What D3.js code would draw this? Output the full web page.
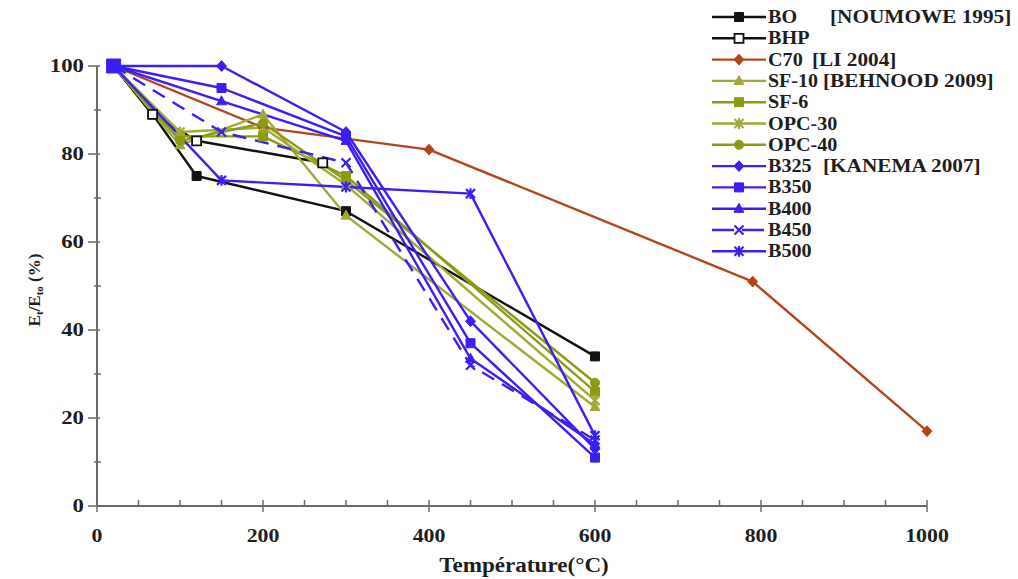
<!DOCTYPE html>
<html><head><meta charset="utf-8">
<script src="https://cdn.jsdelivr.net/npm/d3@7"></script>
<style>body{margin:0;background:#fff}svg{display:block}text{font-family:"Liberation Serif","Times New Roman",serif;font-weight:bold}</style>
</head><body><svg id="c" width="1018" height="579"></svg>
<script>
// ---- data ----
const xTicks = [0, 200, 400, 600, 800, 1000];
const yTicks = [0, 20, 40, 60, 80, 100];
const seriesNames = ["BO","BHP","C70","SF-10","SF-6","OPC-30","OPC-40","B325","B350","B400","B450","B500"];
const legendRefs = ["[NOUMOWE 1995]","","[LI 2004]","[BEHNOOD 2009]","","","","[KANEMA 2007]","","","",""];
const tempBO = [20, 67, 120, 300, 600];
const valBO = [100, 89, 75, 67, 34];
const tempBHP = [20, 67, 120, 272];
const valBHP = [100, 89, 83, 78];
const tempLi = [20, 200, 400, 790, 1000];
const valC70 = [100, 86, 81, 51, 17];
const tempBehnood = [20, 100, 200, 300, 600];
const valSF10 = [100, 82, 89, 66, 22.5];
const valSF6 = [100, 84, 84, 75, 26];
const valOPC30 = [100, 85, 86, 73, 24];
const valOPC40 = [100, 83, 87, 74, 28];
const tempKanema = [20, 150, 300, 450, 600];
const valB325 = [100, 100, 85, 42, 13];
const valB350 = [100, 95, 84, 37, 11];
const valB400 = [100, 92, 83, 33.5, 14];
const valB450 = [100, 85, 78, 32, 15];
const valB500 = [100, 74, 72.5, 71, 16];

const blue = "#3a20f2", olive = "#8e9a14", olive2 = "#a2aa36", red = "#b5441e", black = "#111";
const series = [
  {name:"BO", x:tempBO, y:valBO, color:black, marker:"square", fill:true},
  {name:"BHP", x:tempBHP, y:valBHP, color:black, marker:"square", fill:false},
  {name:"C70", x:tempLi, y:valC70, color:red, marker:"diamond", fill:true},
  {name:"SF-10", x:tempBehnood, y:valSF10, color:olive2, marker:"triangle", fill:true},
  {name:"SF-6", x:tempBehnood, y:valSF6, color:olive, marker:"square", fill:true},
  {name:"OPC-30", x:tempBehnood, y:valOPC30, color:olive2, marker:"star", fill:true},
  {name:"OPC-40", x:tempBehnood, y:valOPC40, color:olive, marker:"circle", fill:true},
  {name:"B325", x:tempKanema, y:valB325, color:blue, marker:"diamond", fill:true},
  {name:"B350", x:tempKanema, y:valB350, color:blue, marker:"square", fill:true},
  {name:"B400", x:tempKanema, y:valB400, color:blue, marker:"triangle", fill:true},
  {name:"B450", x:tempKanema, y:valB450, color:blue, marker:"x", fill:true, dash:"14,9"},
  {name:"B500", x:tempKanema, y:valB500, color:blue, marker:"star", fill:true}
];

// ---- drawing ----
const svg = d3.select("#c");
const X = d3.scaleLinear().domain([0,1000]).range([97,927]);
const Y = d3.scaleLinear().domain([0,100]).range([506,66]);
const axisColor = "#6a6a6a";
const txt = "#1e1e1e";

function markerPath(type, s){
  const h = s/2;
  switch(type){
    case "square": return `M${-h},${-h}H${h}V${h}H${-h}Z`;
    case "diamond": return `M0,${-h*1.2}L${h*1.1},0L0,${h*1.2}L${-h*1.1},0Z`;
    case "triangle": return `M0,${-h*1.2}L${h*1.1},${h*0.8}L${-h*1.1},${h*0.8}Z`;
    case "circle": return d3.symbol(d3.symbolCircle, s*s*0.8)();
    case "x": return `M${-h},${-h}L${h},${h}M${h},${-h}L${-h},${h}`;
    case "star": return `M${-h},${-h}L${h},${h}M${h},${-h}L${-h},${h}M0,${-h*1.2}V${h*1.2}`;
  }
}
function drawMarker(g, type, cx, cy, color, fill, s){
  const stroked = (type==="x"||type==="star");
  g.append("path").attr("transform",`translate(${cx},${cy})`)
   .attr("d", markerPath(type, s))
   .attr("fill", stroked ? "none" : (fill ? color : "#fff"))
   .attr("stroke", color).attr("stroke-width", stroked ? 2.2 : (fill?1:1.8));
}
function sText(g, x, y, str, size, anchor, sx){
  return g.append("text").attr("transform",`translate(${x},${y}) scale(${sx},1)`)
    .attr("text-anchor",anchor).attr("font-size",size).attr("fill",txt).text(str);
}

// axes
const axG = svg.append("g");
axG.append("line").attr("x1",X(0)).attr("x2",X(1000)).attr("y1",Y(0)).attr("y2",Y(0)).attr("stroke",axisColor).attr("stroke-width",2);
axG.append("line").attr("x1",X(0)).attr("x2",X(0)).attr("y1",Y(0)).attr("y2",Y(100)).attr("stroke",axisColor).attr("stroke-width",2);
X.ticks(20).forEach(v=>{
  const major = xTicks.includes(v);
  axG.append("line").attr("x1",X(v)).attr("x2",X(v)).attr("y1",Y(0)-6).attr("y2",Y(0)+(major?6:1)).attr("stroke",axisColor).attr("stroke-width",1.5);
});
Y.ticks(10).forEach(v=>{
  const major = yTicks.includes(v);
  axG.append("line").attr("x1",X(0)-(major?9:3)).attr("x2",X(0)+(major?3:4)).attr("y1",Y(v)).attr("y2",Y(v)).attr("stroke",axisColor).attr("stroke-width",1.5);
});
xTicks.forEach(v=> sText(axG, X(v), 542, String(v), 19, "middle", 1.15));
yTicks.forEach(v=> sText(axG, 84, Y(v)+6, String(v), 19, "end", 1.2));
sText(axG, 524, 572, "Température(°C)", 21, "middle", 1.1);
const yt = axG.append("text").attr("transform","translate(40,290) rotate(-90)").attr("text-anchor","middle").attr("font-size",17).attr("fill",txt);
yt.append("tspan").text("E");
yt.append("tspan").attr("font-size",11).attr("dy",3).text("t");
yt.append("tspan").attr("dy",-3).text("/E");
yt.append("tspan").attr("font-size",11).attr("dy",3).text("to");
yt.append("tspan").attr("dy",-3).text("  (%)");

// series
const line = d3.line().x(d=>X(d[0])).y(d=>Y(d[1]));
const plotG = svg.append("g");
series.forEach(s=>{
  const pts = s.x.map((t,i)=>[t, s.y[i]]);
  plotG.append("path").datum(pts).attr("d",line).attr("fill","none")
    .attr("stroke",s.color).attr("stroke-width",2.4).attr("stroke-dasharray",s.dash||null).attr("stroke-linejoin","round");
});
series.forEach(s=>{
  s.x.forEach((t,i)=>drawMarker(plotG, s.marker, X(t), Y(s.y[i]), s.color, s.fill, s.name==="B350"&&i===0?14:9));
});

// legend
const lg = svg.append("g");
const refX = {"[NOUMOWE 1995]":830,"[LI 2004]":812,"[BEHNOOD 2009]":823,"[KANEMA 2007]":823};
seriesNames.forEach((n,i)=>{
  const s = series[i];
  const y = 17 + i*21.3;
  lg.append("line").attr("x1",712).attr("x2",766).attr("y1",y).attr("y2",y)
    .attr("stroke",s.color).attr("stroke-width",2.4).attr("stroke-dasharray",s.dash? "22,8":null);
  drawMarker(lg, s.marker, 739, y, s.color, s.fill, 9);
  const t = sText(lg, 768, y+6, n, 18, "start", 1.12);
  if(legendRefs[i]){
    const maxW = (refX[legendRefs[i]] - 773) / 1.12;
    if(t.node().getComputedTextLength() > maxW) t.attr("textLength", maxW).attr("lengthAdjust","spacingAndGlyphs");
    sText(lg, refX[legendRefs[i]], y+6, legendRefs[i], 18.5, "start", 1.15);
  }
});
</script></body></html>
